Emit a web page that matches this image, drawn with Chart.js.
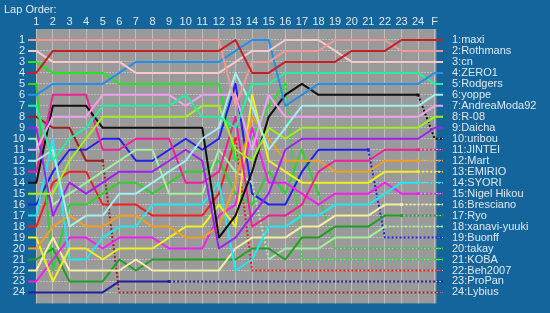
<!DOCTYPE html>
<html>
<head>
<meta charset="utf-8">
<script src="https://cdn.jsdelivr.net/npm/chart.js@4/dist/chart.umd.min.js"></script>
<style>
	body { margin: 0; background: #13659b; }
	canvas { display: block; }
</style>
</head>
<body>
<canvas id="lapChart" width="550" height="313"></canvas>
<script>
'use strict';

// top axis: laps 1..24 then the finish
const lapLabels = ['1', '2', '3', '4', '5', '6', '7', '8', '9', '10', '11', '12',
	'13', '14', '15', '16', '17', '18', '19', '20', '21', '22', '23', '24', 'F'];
const ranks = [1, 2, 3, 4, 5, 6, 7, 8, 9, 10, 11, 12, 13, 14, 15, 16, 17, 18, 19, 20, 21, 22, 23, 24];

// finishing order (right hand labels)
const drivers = ['maxi', 'Rothmans', 'cn', 'ZERO1', 'Rodgers', 'yoppe', 'AndreaModa92', 'R-08',
	'Daicha', 'uribou', 'JINTEI', 'Mart', 'EMIRIO', 'SYORI', 'Nigel Hikou', 'Bresciano', 'Ryo',
	'xanavi-yuuki', 'Buonff', 'takay', 'KOBA', 'Beh2007', 'ProPan', 'Lybius'];

const colors = ['#c82020', '#f09898', '#f8c8c8', '#2090e8', '#20f0a0', '#a0f0f0', '#f0a0f0', '#a0f020',
	'#a020f0', '#101010', '#f0209a', '#f0a020', '#f0f020', '#20e8f0', '#f020f0', '#f0f0a0', '#20a020',
	'#a0f0a0', '#2020f0', '#30d030', '#20e820', '#f02020', '#2020a0', '#a02020'];

// position at lap 1..24 and F
const maxiPos      = [4, 2, 2, 2, 2, 2, 2, 2, 2, 2, 2, 2, 1, 4, 4, 3, 3, 3, 3, 2, 2, 2, 1, 1, 1];
const rothmansPos  = [1, 1, 1, 1, 1, 1, 1, 1, 1, 1, 1, 1, 7, 3, 3, 2, 2, 2, 1, 1, 1, 1, 2, 2, 2];
const cnPos        = [2, 3, 3, 3, 3, 3, 4, 4, 4, 4, 4, 4, 3, 2, 2, 1, 1, 1, 2, 3, 3, 3, 3, 3, 3];
const zero1Pos     = [6, 5, 5, 5, 5, 4, 3, 3, 3, 3, 3, 3, 2, 1, 1, 7, 6, 5, 5, 5, 5, 5, 5, 5, 4];
const rodgersPos   = [7, 12, 10, 9, 7, 7, 7, 7, 7, 6, 8, 8, 9, 5, 5, 4, 4, 4, 4, 4, 4, 4, 4, 4, 5];
const yoppePos     = [12, 11, 18, 17, 17, 15, 15, 14, 13, 12, 10, 9, 4, 7, 11, 9, 7, 7, 7, 7, 7, 7, 7, 7, 6];
const andreaPos    = [11, 8, 8, 8, 6, 6, 6, 6, 6, 7, 6, 6, 6, 11, 6, 8, 8, 8, 8, 8, 8, 8, 8, 8, 7];
const r08Pos       = [15, 15, 12, 10, 8, 8, 8, 8, 8, 8, 7, 7, 11, 12, 9, 10, 9, 9, 9, 9, 9, 9, 9, 9, 8];
const daichaPos    = [9, 17, 14, 15, 14, 13, 13, 13, 12, 11, 12, 20, 19, 17, 15, 11, 10, 10, 10, 10, 10, 10, 10, 10, 9];
const uribouPos    = [14, 7, 7, 7, 9, 9, 9, 9, 9, 9, 9, 19, 17, 13, 8, 6, 5, 6, 6, 6, 6, 6, 6, 6, 10];
const jinteiPos    = [13, 6, 6, 6, 11, 11, 10, 10, 10, 14, 14, 13, 8, 18, 17, 17, 16, 13, 12, 12, 12, 11, 11, 11, 11];
const martPos      = [20, 18, 17, 18, 18, 17, 17, 18, 18, 19, 19, 18, 14, 8, 10, 12, 12, 12, 13, 13, 13, 12, 12, 12, 12];
const emirioPos    = [19, 23, 20, 20, 21, 20, 20, 20, 19, 18, 18, 16, 18, 6, 12, 13, 14, 14, 14, 14, 14, 13, 13, 13, 13];
const syoriPos     = [17, 10, 21, 21, 19, 18, 18, 16, 16, 16, 16, 14, 22, 21, 18, 18, 17, 17, 16, 16, 16, 15, 14, 14, 14];
const nigelPos     = [23, 21, 19, 19, 20, 19, 19, 19, 20, 20, 20, 17, 16, 9, 14, 14, 15, 16, 15, 15, 15, 14, 15, 15, 15];
const brescianoPos = [22, 19, 22, 22, 22, 22, 21, 22, 22, 22, 22, 22, 20, 19, 19, 19, 18, 18, 17, 17, 17, 16, 16, 16, 16];
const ryoPos       = [21, 20, 23, 23, 23, 21, 22, 21, 21, 21, 21, 21, 21, 20, 20, 21, 19, 19, 18, 18, 18, 17, 17, 17, 17];
const xanaviPos    = [10, 16, 15, 14, 13, 12, 11, 11, 15, 15, 15, 11, 13, 14, 21, 20, 20, 20, 19, 19, 19, 18, 18, 18, 18];
const buonffPos    = [16, 13, 11, 11, 10, 10, 12, 12, 11, 10, 11, 10, 5, 15, 16, 16, 13, 11, 11, 11, 11, 19, 19, 19, 19];
const takayPos     = [5, 22, 16, 16, 15, 14, 14, 15, 14, 13, 13, 12, 15, 16, 13, 15, 11, 15, 20, 20, 20, 20, 20, 20, 20];
const kobaPos      = [3, 4, 4, 4, 4, 5, 5, 5, 5, 5, 5, 5, 12, 10, 7, 5, 21, 21, 21, 21, 21, 21, 21, 21, 21];
const behPos       = [18, 14, 13, 13, 16, 16, 16, 17, 17, 17, 17, 15, 10, 22, 22, 22, 22, 22, 22, 22, 22, 22, 22, 22, 22];
const propanPos    = [24, 24, 24, 24, 24, 23, 23, 23, 23, 23, 23, 23, 23, 23, 23, 23, 23, 23, 23, 23, 23, 23, 23, 23, 23];
const lybiusPos    = [8, 9, 9, 12, 12, 24, 24, 24, 24, 24, 24, 24, 24, 24, 24, 24, 24, 24, 24, 24, 24, 24, 24, 24, 24];

const positions = [maxiPos, rothmansPos, cnPos, zero1Pos, rodgersPos, yoppePos, andreaPos, r08Pos,
	daichaPos, uribouPos, jinteiPos, martPos, emirioPos, syoriPos, nigelPos, brescianoPos, ryoPos,
	xanaviPos, buonffPos, takayPos, kobaPos, behPos, propanPos, lybiusPos];

// last lap drawn solid (line is dotted after it), null = ran to the flag
const lastLap = [null, null, null, null, null, null, null, null, null, 24, 24, 24, 24, 24, 24,
	23, 23, 22, 21, 18, 16, 13, 9, 5];
// extra dotted stretches (lap where the dotted piece starts)
const pitLaps = [[], [], [], [], [], [], [], [], [], [], [], [], [], [], [], [], [], [14], [], [], [], [], [], []];

const textColor = '#dfe8ef';
const font = { family: "'Liberation Sans', Arial, sans-serif", size: 11 };

const plotBack = {
	id: 'plotBack',
	beforeDraw(chart) {
		const ctx = chart.ctx;
		const x = chart.scales.x, y = chart.scales.y;
		ctx.save();
		ctx.fillStyle = '#13659b';
		ctx.fillRect(0, 0, chart.width, chart.height);
		const l = x.getPixelForValue(1), r = x.getPixelForValue(25.1);
		const t = y.getPixelForValue(0), b = y.getPixelForValue(25);
		ctx.fillStyle = '#9a9a9a';
		ctx.fillRect(l, t, r - l, b - t);
		ctx.restore();
	}
};

const datasets = drivers.map((name, i) => {
	const pos = positions[i];
	const data = [{ x: 0.5, y: pos[0] }]
		.concat(pos.map((p, j) => ({ x: j + 1, y: p })))
		.concat([{ x: 25.5, y: pos[pos.length - 1] }]);
	const cut = lastLap[i];
	return {
		label: name,
		data: data,
		borderColor: colors[i],
		backgroundColor: colors[i],
		borderWidth: 2,
		borderJoinStyle: 'round',
		tension: 0,
		pointStyle: 'rect',
		pointRadius: (ctx) => ctx.dataIndex === cut ? 2 : 0,
		pointBorderWidth: 0,
		segment: {
			borderDash: (ctx) => ((cut !== null && ctx.p0DataIndex >= cut) || pitLaps[i].includes(ctx.p0DataIndex)) ? [2, 2] : undefined
		}
	};
});

const config = {
	type: 'line',
	data: { datasets: datasets },
	options: {
		responsive: false,
		animation: false,
		devicePixelRatio: 1,
		layout: { padding: { left: 4, right: 0, top: 0, bottom: 8 } },
		plugins: {
			legend: { display: false },
			tooltip: { enabled: false },
			title: {
				display: true,
				text: 'Lap Order:',
				align: 'start',
				color: textColor,
				font: { family: font.family, size: 11, weight: 'normal' },
				padding: { top: 3, bottom: 0 }
			}
		},
		scales: {
			x: {
				type: 'linear',
				position: 'top',
				min: 0.5,
				max: 25.5,
				afterBuildTicks: (axis) => { axis.ticks = lapLabels.map((_, i) => ({ value: i + 1 })); },
				afterFit: (axis) => { axis.height = 12.8; },
				ticks: {
					callback: (v) => lapLabels[v - 1],
					color: textColor, font: font, padding: 0, maxRotation: 0, autoSkip: false
				},
				grid: { color: '#bdbdbd', drawTicks: false },
				border: { display: false }
			},
			y: {
				type: 'linear',
				reverse: true,
				min: 0,
				max: 25,
				afterBuildTicks: (axis) => { axis.ticks = ranks.map((v) => ({ value: v })); },
				afterFit: (axis) => { axis.width = 24; },
				ticks: { color: textColor, font: font, padding: 3, autoSkip: false },
				grid: { color: '#bdbdbd', drawTicks: false },
				border: { display: false, dash: [2, 1] }
			},
			y2: {
				type: 'linear',
				position: 'right',
				reverse: true,
				min: 0,
				max: 25,
				afterBuildTicks: (axis) => { axis.ticks = ranks.map((v) => ({ value: v })); },
				afterFit: (axis) => { axis.width = 107; },
				ticks: {
					callback: (v) => v + ':' + drivers[v - 1],
					color: textColor, font: font, padding: 1, autoSkip: false
				},
				grid: { display: false },
				border: { display: false }
			}
		}
	},
	plugins: [plotBack]
};

window.addEventListener('load', function() {
	const ctx = document.getElementById('lapChart').getContext('2d');
	const lapChart = new Chart(ctx, config);
}, false);
</script>
</body>
</html>
